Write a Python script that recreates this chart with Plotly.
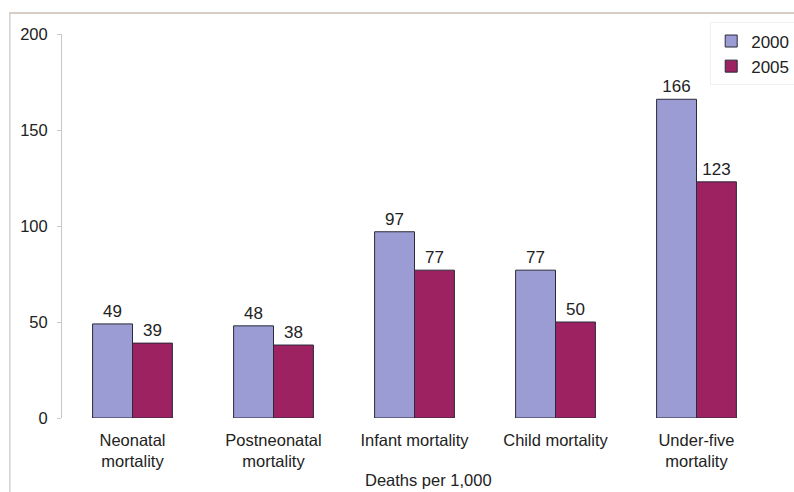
import plotly.graph_objects as go

categories = ["Neonatal<br>mortality", "Postneonatal<br>mortality", "Infant mortality",
              "Child mortality", "Under-five<br>mortality"]
values_2000 = [49, 48, 97, 77, 166]
values_2005 = [39, 38, 77, 50, 123]
series_names = ["2000", "2005"]
y_ticks = [0, 50, 100, 150, 200]
x_title = "Deaths per 1,000"

c2000 = "#9c9cd4"
c2005 = "#9c2262"
font = dict(family="Liberation Sans, Arial, sans-serif", size=16.5, color="#222222")

fig = go.Figure()
for name, vals, col in [(series_names[0], values_2000, c2000), (series_names[1], values_2005, c2005)]:
    fig.add_trace(go.Bar(
        name=name, x=categories, y=vals, marker=dict(color=col, line=dict(color="#2a2a3a", width=1)),
        text=[str(v) for v in vals], textposition="outside", cliponaxis=False,
        textfont=dict(family=font["family"], size=17, color="#222222"),
    ))

fig.update_layout(
    width=794, height=492,
    margin=dict(l=62, r=27, t=34, b=74, autoexpand=False),
    paper_bgcolor="white", plot_bgcolor="white",
    barmode="group", bargap=0.434, bargroupgap=0,
    font=font,
    showlegend=True,
    legend=dict(x=1.04, y=1.03, xanchor="right", yanchor="top",
                bgcolor="rgba(255,255,255,0.8)", bordercolor="#f0f0f0", borderwidth=1,
                font=dict(size=17, color="#222222"),
                itemwidth=30, tracegroupgap=0),
    xaxis=dict(showline=False, ticks="", tickfont=font, showgrid=False, ticklabelstandoff=10),
    yaxis=dict(range=[0, 200], tickvals=y_ticks, showgrid=False, zeroline=False,
               showline=True, linecolor="#c8c8c8", linewidth=1, ticks="outside",
               ticklen=4, tickcolor="#c8c8c8", tickfont=font, ticklabelstandoff=6),
    annotations=[dict(text=x_title, xref="paper", yref="paper", x=0.52, y=-0.19,
                      xanchor="center", yanchor="bottom", showarrow=False, font=font)],
    shapes=[
        dict(type="line", xref="paper", yref="paper", x0=-0.075, x1=1.04, y0=1.055, y1=1.055,
             line=dict(color="#c9bdb5", width=1.5)),
        dict(type="line", xref="paper", yref="paper", x0=-0.074, x1=-0.074, y0=1.055, y1=-0.2,
             line=dict(color="#d6d0cc", width=1.5)),
    ],
)

fig.write_html("out.html")
